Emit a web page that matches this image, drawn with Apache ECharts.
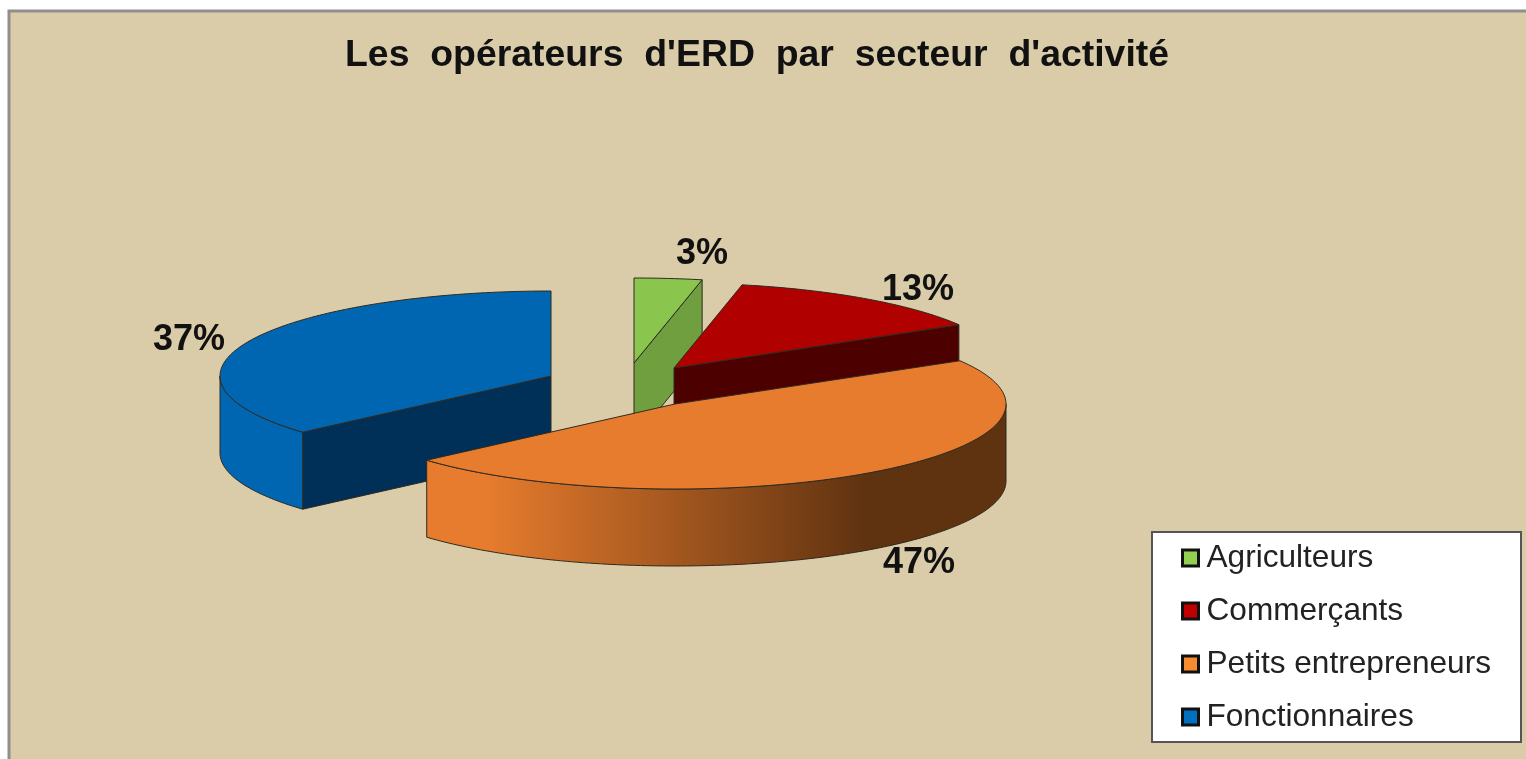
<!DOCTYPE html>
<html>
<head>
<meta charset="utf-8">
<style>html,body{margin:0;padding:0;background:#fff}#c{width:1526px;height:759px;filter:blur(0.6px)}</style>
<script src="https://cdn.jsdelivr.net/npm/echarts@6/dist/echarts.min.js"></script>
</head>
<body>
<div id="c"></div>
<script>
const titleText = "Les opérateurs d'ERD par secteur d'activité";
const categories = ['Agriculteurs', 'Commerçants', 'Petits entrepreneurs', 'Fonctionnaires'];
const values = [3.3, 13.2, 47, 36.5];
const percentLabels = ['3%', '13%', '47%', '37%'];

const topColors = ['#8ac54e', '#b00000', '#e77c2e', '#0066b2'];
const cutColors = ['#6f9f3f', '#4c0000', '#5f3210', '#003057'];
const legendColors = ['#92d050', '#c00000', '#f68b30', '#0070c0'];
const orangeWall = {
  type: 'linear', x: 0, y: 0, x2: 1, y2: 0,
  colorStops: [
    { offset: 0, color: '#e77c2e' }, { offset: 0.1, color: '#e77c2e' },
    { offset: 0.76, color: '#5f3210' }, { offset: 1, color: '#5f3210' }
  ]
};
const wallColors = ['#6f9f3f', '#4c0000', orangeWall, '#0066b2'];

const RX = 331, RY = 85, DEPTH = 77;
const layout = [
  { cx: 634, cy: 363, lx: 702, ly: 254, z: 3 },
  { cx: 674, cy: 368, lx: 918, ly: 290, z: 4 },
  { cx: 675, cy: 404, lx: 919, ly: 563, z: 5 },
  { cx: 551, cy: 376, lx: 189, ly: 340, z: 2 }
];
const total = values.reduce((a, b) => a + b, 0);
const starts = values.map((_, i) => values.slice(0, i).reduce((a, b) => a + b, 0) / total * 360);
const LINE = '#2f2a20';

function pt(l, deg, dy) {
  const r = deg * Math.PI / 180;
  return [l.cx + RX * Math.sin(r), l.cy - RY * Math.cos(r) + (dy || 0)];
}
function arc(l, a, b, dy) {
  const out = [];
  for (let d = a; d < b; d += 1) out.push(pt(l, d, dy));
  out.push(pt(l, b, dy));
  return out;
}
function poly(points, fill) {
  return { type: 'polygon', shape: { points }, style: { fill, stroke: LINE, lineWidth: 1, lineJoin: 'round' } };
}
function cutFace(l, deg, fill) {
  return poly([[l.cx, l.cy], pt(l, deg), pt(l, deg, DEPTH), [l.cx, l.cy + DEPTH]], fill);
}
function makeRender(i) {
  return function (params, api) {
    const l = layout[i];
    const s = starts[i];
    const e = s + api.value(0) / total * 360;
    const children = [];
    if (Math.sin(s * Math.PI / 180) < -1e-6) children.push(cutFace(l, s, cutColors[i]));
    if (Math.sin(e * Math.PI / 180) > 1e-6) children.push(cutFace(l, e, cutColors[i]));
    const a = Math.max(s, 90), b = Math.min(e, 270);
    if (a < b) {
      const upper = arc(l, a, b, 0), lower = arc(l, a, b, DEPTH).reverse();
      children.push(poly(upper.concat(lower), wallColors[i]));
    }
    children.push(poly([[l.cx, l.cy]].concat(arc(l, s, e, 0)), topColors[i]));
    children.push({
      type: 'text', z2: 10,
      style: {
        x: l.lx, y: l.ly, text: percentLabels[i], fill: '#111',
        font: 'bold 36px "Liberation Sans", Arial, sans-serif',
        align: 'center', verticalAlign: 'middle'
      }
    });
    return { type: 'group', children };
  };
}

const chart = echarts.init(document.getElementById('c'), null, { renderer: 'canvas' });
chart.setOption({
  animation: false,
  backgroundColor: '#ffffff',
  title: {
    text: titleText.replace(/ /g, '  '), left: 345, top: 37, padding: 0, itemGap: 0,
    textStyle: { fontFamily: '"Liberation Sans", Arial, sans-serif', fontWeight: 'bold', fontSize: 37.4, color: '#111' }
  },
  legend: {
    orient: 'vertical', left: 1152, top: 532,
    padding: [10, 30, 9, 29], itemGap: 21,
    backgroundColor: '#ffffff', borderColor: '#555', borderWidth: 2,
    itemWidth: 16, itemHeight: 16, selectedMode: false,
    textStyle: { fontFamily: '"Liberation Sans", Arial, sans-serif', fontSize: 31.6, color: '#222', padding: [0, 0, 0, 3] },
    data: categories.map((name, i) => ({
      name, icon: 'rect',
      itemStyle: { color: legendColors[i], borderColor: '#111', borderWidth: 3 }
    }))
  },
  graphic: [{
    type: 'rect', z: -10, silent: true,
    shape: { x: 9, y: 11, width: 1600, height: 800 },
    style: { fill: '#dbcca9', stroke: '#8f8f8f', lineWidth: 3 }
  }],
  series: categories.map((name, i) => ({
    type: 'custom', name, coordinateSystem: 'none', silent: true,
    z: layout[i].z,
    itemStyle: { color: legendColors[i] },
    data: [[values[i]]],
    renderItem: makeRender(i)
  }))
});
</script>
</body>
</html>
